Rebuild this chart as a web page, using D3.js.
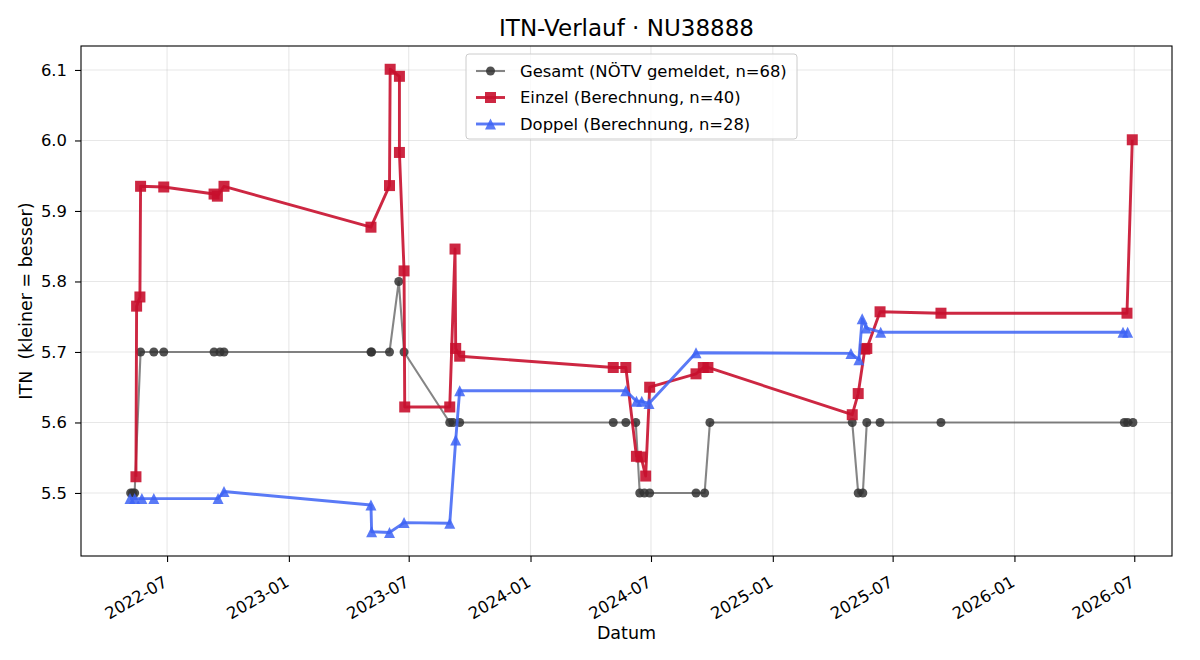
<!DOCTYPE html>
<html>
<head>
<meta charset="utf-8">
<script src="https://cdn.jsdelivr.net/npm/d3@7"></script>
<style>
    body { margin: 0; background: white; }
    text { font-family: "DejaVu Sans", sans-serif; fill: black; }
</style>
</head>
<body>
<div id="chart"></div>
<script>

// Data
// --------------------------------------------------------------------------------------------

// Gesamt (reported by NÖTV)
const gesamtDates = ["2022-05-07","2022-05-10","2022-05-13","2022-05-22","2022-06-11","2022-06-26",
    "2022-09-10","2022-09-19","2022-09-25","2023-05-05","2023-05-06","2023-06-02","2023-06-16",
    "2023-06-24","2023-09-01","2023-09-06","2023-09-16","2024-05-05","2024-05-24","2024-06-08",
    "2024-06-14","2024-06-21","2024-06-29","2024-09-07","2024-09-20","2024-09-28","2025-05-01",
    "2025-05-10","2025-05-17","2025-05-23","2025-06-12","2025-09-12","2026-06-16","2026-06-21",
    "2026-06-29"]
const gesamtValues = [5.5,5.5,5.5,5.7,5.7,5.7,
    5.7,5.7,5.7,5.7,5.7,5.7,5.8,
    5.7,5.6,5.6,5.6,5.6,5.6,5.6,
    5.5,5.5,5.5,5.5,5.5,5.6,5.6,
    5.5,5.5,5.6,5.6,5.6,5.6,5.6,
    5.6]

// Einzel (calculated)
const einzelDates = ["2022-05-15","2022-05-16","2022-05-21","2022-05-22","2022-06-26","2022-09-10",
    "2022-09-15","2022-09-25","2023-05-05","2023-06-02","2023-06-03","2023-06-17","2023-06-17",
    "2023-06-24","2023-06-25","2023-09-01","2023-09-09","2023-09-10","2023-09-16","2024-05-05",
    "2024-05-24","2024-06-09","2024-06-16","2024-06-23","2024-06-29","2024-09-07","2024-09-18",
    "2024-09-25","2025-05-01","2025-05-10","2025-05-20","2025-05-23","2025-06-12","2025-09-12",
    "2026-06-20","2026-06-28"]
const einzelValues = [5.523,5.765,5.778,5.935,5.934,5.924,
    5.921,5.935,5.877,5.936,6.101,6.091,5.983,
    5.815,5.622,5.622,5.846,5.705,5.694,5.678,
    5.678,5.552,5.551,5.524,5.650,5.669,5.678,
    5.678,5.611,5.641,5.704,5.705,5.757,5.755,
    5.755,6.001]

// Doppel (calculated)
const doppelDates = ["2022-05-06","2022-05-13","2022-05-24","2022-06-11","2022-09-16","2022-09-25",
    "2023-05-05","2023-05-06","2023-06-02","2023-06-24","2023-09-01","2023-09-10","2023-09-16",
    "2024-05-24","2024-06-09","2024-06-17","2024-06-28","2024-09-07","2025-04-29","2025-05-11",
    "2025-05-16","2025-05-22","2025-06-13","2026-06-14","2026-06-21"]
const doppelValues = [5.492,5.492,5.492,5.492,5.492,5.502,
    5.483,5.445,5.444,5.458,5.457,5.575,5.645,
    5.645,5.630,5.630,5.627,5.699,5.698,5.689,
    5.747,5.734,5.728,5.728,5.728]

const seriesNames = ["Gesamt (NÖTV gemeldet, n=68)", "Einzel (Berechnung, n=40)", "Doppel (Berechnung, n=28)"]
const yTicks = [5.5, 5.6, 5.7, 5.8, 5.9, 6.0, 6.1]


function drawChart(container) {

    const width = 1200, height = 660
    const margin = {left: 81, right: 28, top: 46, bottom: 104}
    const parse = d3.utcParse("%Y-%m-%d")
    const tickFont = "16.4px"

    // Build series objects from the arrays above
    let series = [
        {name: seriesNames[0], colour: "#333333", lineOpacity: 0.6, markOpacity: 0.85, lw: 2.1, marker: "circle", size: 9,
            data: gesamtDates.map((d, i) => ({date: parse(d), value: gesamtValues[i]}))},
        {name: seriesNames[1], colour: "#c8102e", lineOpacity: 0.9, markOpacity: 0.9, lw: 2.9, marker: "square", size: 11,
            data: einzelDates.map((d, i) => ({date: parse(d), value: einzelValues[i]}))},
        {name: seriesNames[2], colour: "#3d63f5", lineOpacity: 0.85, markOpacity: 0.85, lw: 2.9, marker: "triangle", size: 11,
            data: doppelDates.map((d, i) => ({date: parse(d), value: doppelValues[i]}))}
    ]

    let svg = d3.select(container).append("svg")
        .attr("width", width)
        .attr("height", height)

    let plotW = width - margin.left - margin.right
    let plotH = height - margin.top - margin.bottom

    // Scales
    let x = d3.scaleUtc()
        .domain([parse("2022-02-21"), parse("2026-08-27")])
        .range([0, plotW])
    let y = d3.scaleLinear()
        .domain([5.4106, 6.134])
        .range([plotH, 0])

    let g = svg.append("g")
        .attr("transform", "translate(" + margin.left + "," + margin.top + ")")

    let xTicks = d3.utcMonth.every(6).range(parse("2022-07-01"), parse("2026-07-02"))

    // Grid lines
    let gGrid = g.append("g").attr("id", "grid")
    gGrid.selectAll("line.gx").data(xTicks).join("line")
        .attr("class", "gx")
        .attr("x1", d => x(d)).attr("x2", d => x(d))
        .attr("y1", 0).attr("y2", plotH)
        .style("stroke", "#b0b0b0").style("stroke-opacity", 0.3).style("stroke-width", 1.1)
    gGrid.selectAll("line.gy").data(yTicks).join("line")
        .attr("class", "gy")
        .attr("x1", 0).attr("x2", plotW)
        .attr("y1", d => y(d)).attr("y2", d => y(d))
        .style("stroke", "#b0b0b0").style("stroke-opacity", 0.3).style("stroke-width", 1.1)

    // Axes
    let xAxis = g.append("g")
        .attr("transform", "translate(0," + plotH + ")")
        .call(d3.axisBottom(x).tickValues(xTicks).tickFormat(d3.utcFormat("%Y-%m")).tickSize(6))
    xAxis.select(".domain").remove()
    xAxis.selectAll("line").style("stroke", "black").style("stroke-width", 1.1)
    xAxis.selectAll("text")
        .style("font-size", tickFont)
        .attr("text-anchor", "end")
        .attr("y", 0).attr("dy", 0)
        .attr("transform", "translate(1,29.4) rotate(-30)")

    let yAxis = g.append("g")
        .call(d3.axisLeft(y).tickValues(yTicks).tickFormat(d3.format(".1f")).tickSize(6).tickPadding(8))
    yAxis.select(".domain").remove()
    yAxis.selectAll("line").style("stroke", "black").style("stroke-width", 1.1)
    yAxis.selectAll("text").style("font-size", tickFont)

    // Frame
    g.append("rect")
        .attr("width", plotW).attr("height", plotH)
        .style("fill", "none").style("stroke", "black").style("stroke-width", 1.1)

    // Marker symbols
    function symbolFor(s) {
        if (s.marker == "circle") return d3.symbol(d3.symbolCircle, Math.PI * (s.size / 2) ** 2)()
        if (s.marker == "square") return d3.symbol(d3.symbolSquare, s.size * s.size)()
        let h = s.size
        return "M0," + (-h / 2) + "L" + (h / 2) + "," + (h / 2) + "L" + (-h / 2) + "," + (h / 2) + "Z"
    }

    let line = d3.line()
        .x(d => x(d.date))
        .y(d => y(d.value))

    // Series lines + markers
    series.forEach((s, i) => {
        let gs = g.append("g").attr("id", "series" + i)
        gs.append("path")
            .datum(s.data)
            .attr("d", line)
            .style("fill", "none")
            .style("stroke", s.colour)
            .style("stroke-opacity", s.lineOpacity)
            .style("stroke-width", s.lw)
            .style("stroke-linejoin", "round")
        gs.selectAll("path.m").data(s.data).join("path")
            .attr("class", "m")
            .attr("d", symbolFor(s))
            .attr("transform", d => "translate(" + x(d.date) + "," + y(d.value) + ")")
            .style("fill", s.colour)
            .style("fill-opacity", s.markOpacity)
    })

    // Legend
    let lg = g.append("g").attr("transform", "translate(" + (466 - margin.left) + "," + (54 - margin.top) + ")")
    lg.append("rect")
        .attr("width", 331).attr("height", 85).attr("rx", 3)
        .style("fill", "white").style("fill-opacity", 0.8)
        .style("stroke", "#cccccc").style("stroke-width", 1)
    series.forEach((s, i) => {
        let row = lg.append("g").attr("transform", "translate(0," + (17 + i * 26.5) + ")")
        row.append("line")
            .attr("x1", 10).attr("x2", 39)
            .style("stroke", s.colour).style("stroke-opacity", s.lineOpacity).style("stroke-width", s.lw)
        row.append("path")
            .attr("d", symbolFor(s))
            .attr("transform", "translate(24.5,0)")
            .style("fill", s.colour).style("fill-opacity", s.markOpacity)
        row.append("text")
            .attr("x", 54).attr("dy", "0.35em")
            .style("font-size", tickFont)
            .text(s.name)
    })

    // Title and axis labels
    svg.append("text")
        .attr("x", margin.left + plotW / 2).attr("y", 36)
        .attr("text-anchor", "middle")
        .style("font-size", "23px")
        .text("ITN-Verlauf · NU38888")
    svg.append("text")
        .attr("x", margin.left + plotW / 2).attr("y", 639)
        .attr("text-anchor", "middle")
        .style("font-size", "17.5px")
        .text("Datum")
    svg.append("text")
        .attr("transform", "translate(32," + (margin.top + plotH / 2) + ") rotate(-90)")
        .attr("text-anchor", "middle")
        .style("font-size", "17.5px")
        .style("white-space", "pre")
        .text("ITN  (kleiner = besser)")
}

drawChart("#chart")
</script>
</body>
</html>
